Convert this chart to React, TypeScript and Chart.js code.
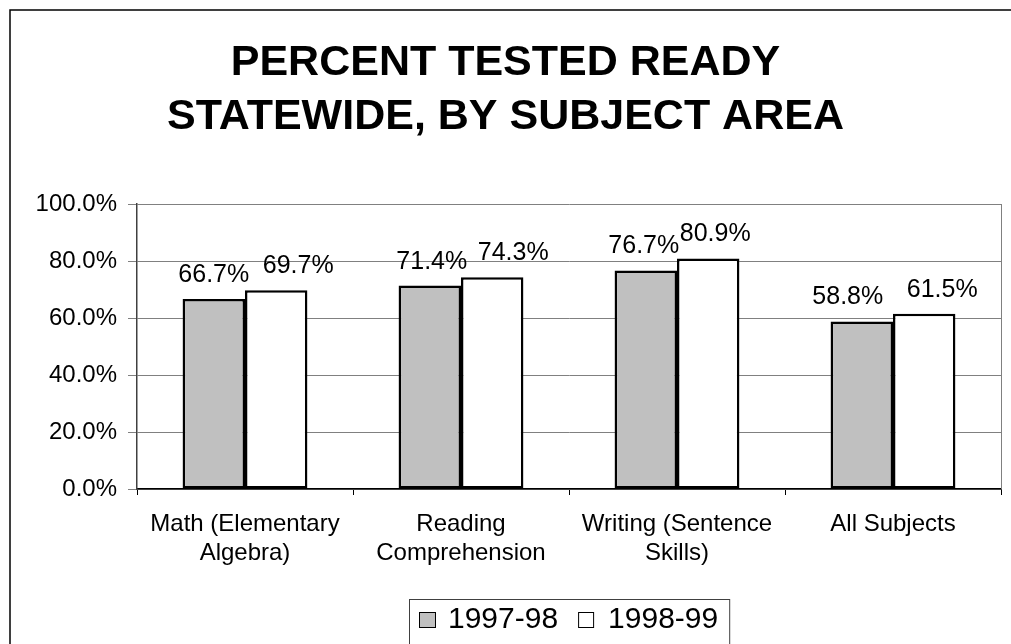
import React, { useEffect, useRef } from "react";
import { Chart, registerables } from "chart.js";

Chart.register(...registerables);

const categories: string[][] = [
  ["Math (Elementary", "Algebra)"],
  ["Reading", "Comprehension"],
  ["Writing (Sentence", "Skills)"],
  ["All Subjects"],
];
const series1Label = "1997-98";
const series2Label = "1998-99";
const series1Values = [66.7, 71.4, 76.7, 58.8];
const series2Values = [69.7, 74.3, 80.9, 61.5];
const titleLines = ["PERCENT TESTED READY", "STATEWIDE, BY SUBJECT AREA"];

// horizontal nudges of the value labels (styling only, pixels)
const labelNudge1 = [0, 2, -2, -14];
const labelNudge2 = [22, 21, 7, 18];

const FONT = "'Liberation Sans', Arial, sans-serif";

const decorPlugin = {
  id: "decor",
  beforeDraw(chart: any) {
    const ctx = chart.ctx;
    ctx.save();
    ctx.fillStyle = "#fff";
    ctx.fillRect(0, 0, chart.width, chart.height);
    ctx.strokeStyle = "#000";
    ctx.lineWidth = 1.5;
    ctx.strokeRect(10, 10, chart.width + 20, chart.height + 20);
    ctx.restore();
  },
  afterDraw(chart: any) {
    const ctx = chart.ctx;
    const area = chart.chartArea;
    ctx.save();
    ctx.strokeStyle = "#808080";
    ctx.lineWidth = 1;
    ctx.beginPath();
    ctx.moveTo(Math.round(area.right) + 0.5, area.top);
    ctx.lineTo(Math.round(area.right) + 0.5, area.bottom);
    ctx.stroke();

    ctx.fillStyle = "#000";
    ctx.font = `bold 43px ${FONT}`;
    ctx.textAlign = "center";
    ctx.textBaseline = "alphabetic";
    const cx = chart.width / 2;
    ctx.fillText(titleLines[0], cx, 75);
    ctx.fillText(titleLines[1], cx, 129);

    ctx.font = `25px ${FONT}`;
    ctx.textAlign = "center";
    const nudges = [labelNudge1, labelNudge2];
    chart.data.datasets.forEach((ds: any, i: number) => {
      const meta = chart.getDatasetMeta(i);
      meta.data.forEach((bar: any, j: number) => {
        const v = ds.data[j] as number;
        ctx.fillText(v.toFixed(1) + "%", bar.x + nudges[i][j], bar.y - 17);
      });
    });

    ctx.font = `30px ${FONT}`;
    const w1 = ctx.measureText(series1Label).width;
    const w2 = ctx.measureText(series2Label).width;
    const total = 10 + 17 + 12 + w1 + 20 + 16 + 14 + w2 + 11;
    const lx = Math.round((area.left + area.right) / 2 - total / 2);
    const ly = 599;
    ctx.strokeStyle = "#404040";
    ctx.lineWidth = 1;
    ctx.strokeRect(lx + 0.5, ly + 0.5, total, 80);
    let x = lx + 10;
    ctx.fillStyle = "#c0c0c0";
    ctx.fillRect(x, 612, 17, 16);
    ctx.strokeStyle = "#000";
    ctx.strokeRect(x + 0.5, 612.5, 16, 15);
    x += 17 + 12;
    ctx.fillStyle = "#000";
    ctx.textAlign = "left";
    ctx.fillText(series1Label, x, 628);
    x += w1 + 20;
    ctx.fillStyle = "#fff";
    ctx.fillRect(x, 612, 16, 16);
    ctx.strokeStyle = "#000";
    ctx.strokeRect(x + 0.5, 612.5, 15, 15);
    x += 16 + 14;
    ctx.fillStyle = "#000";
    ctx.fillText(series2Label, x, 628);
    ctx.restore();
  },
};

export default function App() {
  const canvasRef = useRef<HTMLCanvasElement | null>(null);

  useEffect(() => {
    document.body.style.margin = "0";
    const canvas = canvasRef.current;
    if (!canvas) return;
    const chart = new Chart(canvas, {
      type: "bar",
      data: {
        labels: categories,
        datasets: [
          {
            label: series1Label,
            data: series1Values,
            backgroundColor: "#c0c0c0",
            borderColor: "#000",
            borderWidth: 2.5,
            borderSkipped: false,
            categoryPercentage: 0.578,
            barPercentage: 1.0,
          },
          {
            label: series2Label,
            data: series2Values,
            backgroundColor: "#ffffff",
            borderColor: "#000",
            borderWidth: 2.5,
            borderSkipped: false,
            categoryPercentage: 0.578,
            barPercentage: 1.0,
          },
        ],
      },
      options: {
        responsive: false,
        animation: false,
        devicePixelRatio: 1,
        layout: { padding: { top: 204, right: 10, bottom: 0, left: 0 } },
        plugins: {
          legend: { display: false },
          title: { display: false },
          tooltip: { enabled: false },
        },
        scales: {
          x: {
            grid: {
              drawOnChartArea: false,
              drawTicks: true,
              tickLength: 6,
              color: "#000",
              offset: true,
            },
            border: { color: "#000", width: 1.5 },
            ticks: {
              color: "#000",
              font: { family: FONT, size: 24 },
              padding: 15,
              maxRotation: 0,
              autoSkip: false,
            },
            afterFit: (scale: any) => {
              scale.height = 155;
            },
          },
          y: {
            min: 0,
            max: 100,
            ticks: {
              stepSize: 20,
              color: "#000",
              font: { family: FONT, size: 24 },
              padding: 11,
              callback: (v: any) => Number(v).toFixed(1) + "%",
            },
            grid: { color: "#808080", tickLength: 9, drawTicks: true },
            border: { color: "#404040", width: 1.5 },
            afterFit: (scale: any) => {
              scale.width = 137;
            },
          },
        },
      },
      plugins: [decorPlugin],
    });
    return () => chart.destroy();
  }, []);

  return (
    <canvas
      ref={canvasRef}
      width={1011}
      height={644}
      style={{ display: "block", width: 1011, height: 644 }}
    />
  );
}
